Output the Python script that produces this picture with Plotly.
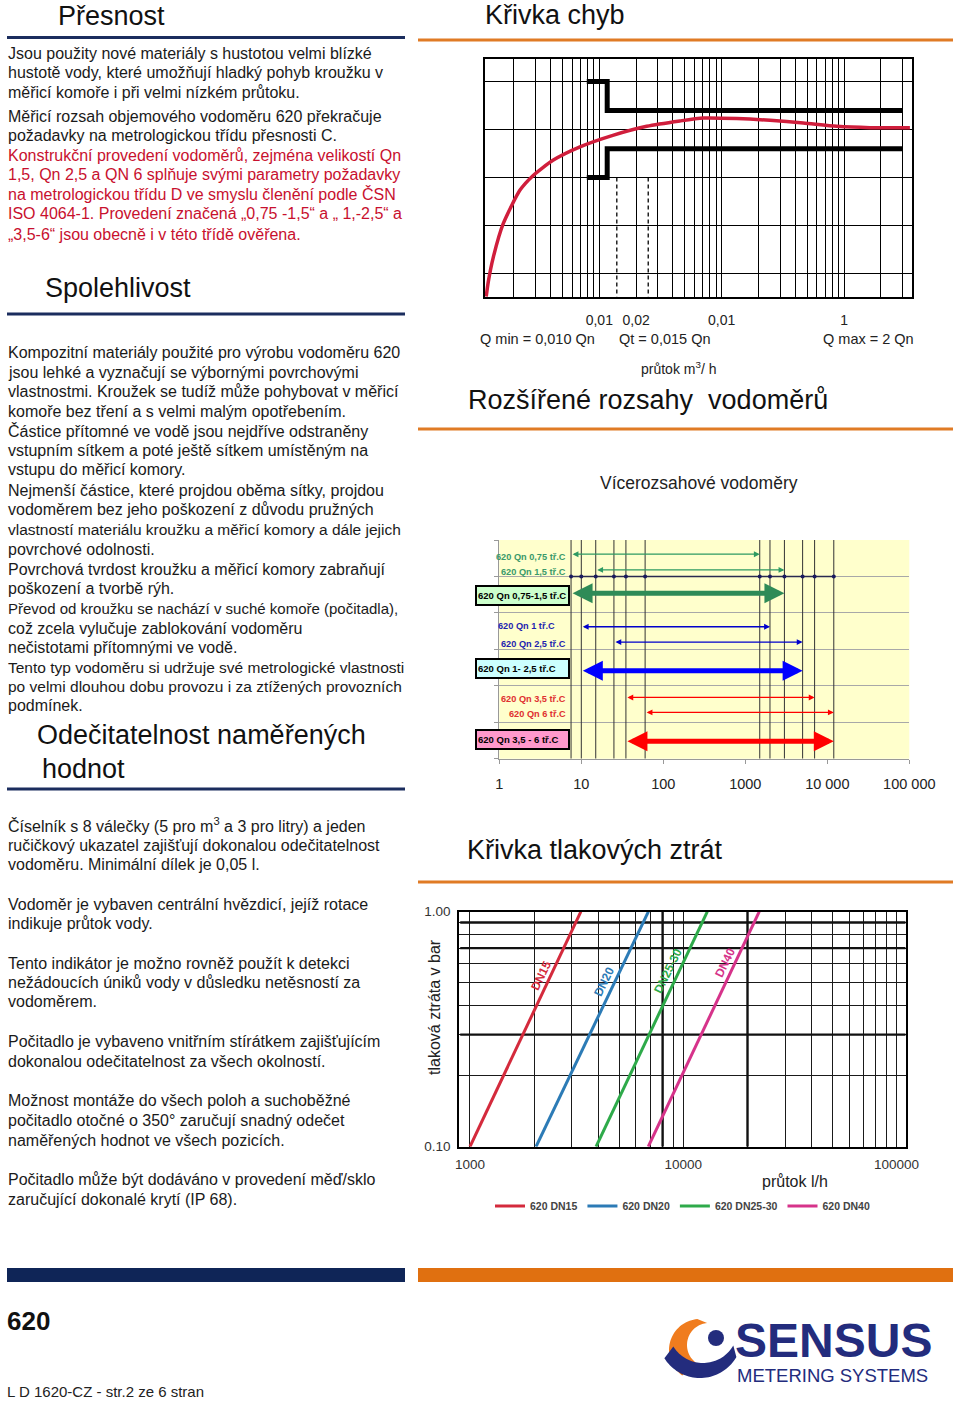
import numpy as np
import plotly.graph_objects as go

W, H = 960, 1401
FONT = "Liberation Sans, Arial, sans-serif"
NARROW = "Liberation Sans Narrow, Liberation Sans, Arial, sans-serif"

# ---------------- DATA ----------------
# Error curve (Křivka chyb): flow m3/h vs error %
err_flow = [0.00119, 0.00124, 0.00136, 0.00164, 0.00225, 0.00287, 0.00418, 0.00695,
            0.0129, 0.0244, 0.0456, 0.0708, 0.133, 0.248, 0.464, 0.870, 1.63, 3.45]
err_pct = [-17.4, -15.8, -13.3, -9.8, -6.3, -4.8, -3.2, -1.8,
           -0.6, 0.34, 0.9, 1.2, 1.15, 0.97, 0.69, 0.34, 0.2, 0.2]
limit_flow = [0.0079, 0.0116, 0.0116, 3.0]
limit_upper = [5, 5, 2, 2]
limit_lower = [-5, -5, -2, -2]
marked_flow = [0.0139, 0.0251]
err_tick_vals = [0.01, 0.02, 0.1, 1]
err_tick_text = ["0,01", "0,02", "0,01", "1"]

# Extended ranges (Vícerozsahové vodoměry), l/h
range_labels = ["620 Qn 0,75 tř.C", "620 Qn 1,5 tř.C", "620 Qn 0,75-1,5 tř.C",
                "620 Qn 1 tř.C", "620 Qn 2,5 tř.C", "620 Qn 1- 2,5 tř.C",
                "620 Qn 3,5 tř.C", "620 Qn 6 tř.C", "620 Qn 3,5 - 6 tř.C"]
range_min = [7.5, 15, 7.5, 10, 25, 10, 35, 60, 35]
range_max = [1500, 3000, 3000, 2000, 5000, 5000, 7000, 12000, 12000]
range_ticks = [1, 10, 100, 1000, 10000, 100000]
range_tick_text = ["1", "10", "100", "1000", "10 000", "100 000"]

# Pressure loss (Křivka tlakových ztrát): flow l/h vs loss bar
dn_names = ["620 DN15", "620 DN20", "620 DN25-30", "620 DN40"]
dn_flow = [[1000, 3310], [2040, 6860], [3900, 12960], [6850, 22700]]
dn_loss = [[0.10, 1.00], [0.10, 1.00], [0.10, 1.00], [0.10, 1.00]]
dp_tick_vals = [1000, 10000, 100000]
dp_tick_text = ["1000", "10000", "100000"]
loss_tick_vals = [0.1, 1.0]
loss_tick_text = ["0.10", "1.00"]
dp_bold_flow = [8000, 20000]
dp_bold_loss = [0.3, 0.7, 0.9]

# ---------------- helpers ----------------
def X(x):
    return x / W

def Y(y):
    return 1 - y / H

ann = []
shapes = []

def text(x, y, s, size=16, color="#1a1a1a", anchor="left", family=FONT, angle=0, yanchor="middle"):
    ann.append(dict(x=X(x), y=Y(y), xref="paper", yref="paper", text=s, showarrow=False,
                    xanchor=anchor, yanchor=yanchor, textangle=angle, borderpad=0,
                    font=dict(size=size, color=color, family=family)))

def hline(x0, x1, y, color, width):
    shapes.append(dict(type="line", xref="paper", yref="paper", x0=X(x0), x1=X(x1),
                       y0=Y(y), y1=Y(y), line=dict(color=color, width=width)))

def rect(x0, x1, y0, y1, color):
    shapes.append(dict(type="rect", xref="paper", yref="paper", x0=X(x0), x1=X(x1),
                       y0=Y(y1), y1=Y(y0), fillcolor=color, line=dict(width=0)))

NAVY = "#1B2D5E"
ORANGE = "#E07B25"
BLACK = "#1a1a1a"
RED = "#C8102E"

fig = go.Figure()

# ---------------- error curve chart ----------------
fig.add_trace(go.Scatter(x=err_flow, y=err_pct, mode="lines", line=dict(color="#D01E3C", width=3.5, shape="spline", smoothing=0.6),
                         xaxis="x", yaxis="y", showlegend=False, hoverinfo="skip"))
fig.add_trace(go.Scatter(x=limit_flow, y=limit_upper, mode="lines", line=dict(color="black", width=5),
                         xaxis="x", yaxis="y", showlegend=False, hoverinfo="skip"))
fig.add_trace(go.Scatter(x=limit_flow, y=limit_lower, mode="lines", line=dict(color="black", width=5),
                         xaxis="x", yaxis="y", showlegend=False, hoverinfo="skip"))
for q in marked_flow:
    fig.add_trace(go.Scatter(x=[q, q], y=[-5, -17.4], mode="lines", line=dict(color="black", width=1.3, dash="4px,3px"),
                             xaxis="x", yaxis="y", showlegend=False, hoverinfo="skip"))

err_grid = [m * 10.0 ** d for d in (-3, -2, -1, 0) for m in range(1, 10)]
err_grid = [v for v in err_grid if 0.0015 < v < 3.5]
err_text = []
for v in err_grid:
    lab = ""
    for tv, tt in zip(err_tick_vals, err_tick_text):
        if abs(v - tv) / tv < 1e-6:
            lab = tt
    err_text.append(lab)

# ---------------- range chart ----------------
ends = sorted(set(range_min + range_max))
gx, gy = [], []
for v in ends:
    gx += [v, v, None]
    gy += [0, 6, None]
fig.add_trace(go.Scatter(x=gx, y=gy, mode="lines", line=dict(color="#333333", width=1),
                         xaxis="x2", yaxis="y2", showlegend=False, hoverinfo="skip"))
fig.add_trace(go.Scatter(x=ends, y=[5] * len(ends), mode="lines+markers", line=dict(color="#2a2a50", width=1.5),
                         marker=dict(size=4, color="#1a1a5e"), xaxis="x2", yaxis="y2", showlegend=False, hoverinfo="skip"))

row_y = [5.61, 5.18, 4.54, 3.62, 3.20, 2.41, 1.68, 1.27, 0.48]
thin_cols = ["#2E9A62", "#0000CC", "#FF0000"]
big_cols = ["#2E8B57", "#0000FF", "#FF0000"]
label_cols = ["#3A9A6A", "#1F1FB0", "#E03030"]
box_cols = ["#CCFFCC", "#CCFFFF", "#FF99CC"]
thin_label_pos = [(567, 557), (567, 572), None, (556, 626), (567, 644), None, (567, 699), (567, 714), None]
box_y = [595.5, 668.5, 740]
for i in range(9):
    g = i // 3
    big = (i % 3 == 2)
    col = big_cols[g] if big else thin_cols[g]
    aw = 5 if big else 1.3
    asz = 0.8 if big else 0.9
    ann.append(dict(xref="x2", yref="y2", axref="x2", ayref="y2",
                    x=float(np.log10(range_max[i])), y=row_y[i],
                    ax=float(np.log10(range_min[i])), ay=row_y[i],
                    text="", showarrow=True, arrowhead=2, startarrowhead=2, arrowside="end+start",
                    arrowwidth=aw, arrowsize=asz, startarrowsize=asz, arrowcolor=col,
                    standoff=0, startstandoff=0))
    if big:
        ann.append(dict(x=X(522), y=Y(box_y[g]), xref="paper", yref="paper", text="<b>" + range_labels[i] + "</b>",
                        showarrow=False, xanchor="center", yanchor="middle", align="left",
                        width=89, height=15, bgcolor=box_cols[g], bordercolor="black", borderwidth=2, borderpad=1,
                        font=dict(size=9.5, color="black", family=FONT)))
    else:
        lx, ly = thin_label_pos[i]
        text(lx, ly, "<b>" + range_labels[i] + "</b>", size=9.2, color=label_cols[g], anchor="right")

# ---------------- pressure loss chart ----------------
bx, by = [], []
for v in dp_bold_flow:
    bx += [v, v, None]
    by += [0.1, 1.0, None]
for v in dp_bold_loss:
    bx += [900, 110000, None]
    by += [v, v, None]
fig.add_trace(go.Scatter(x=bx, y=by, mode="lines", line=dict(color="#111", width=2.4),
                         xaxis="x3", yaxis="y3", showlegend=False, hoverinfo="skip"))

dn_cols = ["#D42A3C", "#2C7BB6", "#2EAA4A", "#D6338A"]
for name, fl, ls, c in zip(dn_names, dn_flow, dn_loss, dn_cols):
    fig.add_trace(go.Scatter(x=fl, y=ls, mode="lines", name="<b>" + name + "</b>", line=dict(color=c, width=3),
                             xaxis="x3", yaxis="y3", showlegend=True, hoverinfo="skip"))

dp_grid = [m * 10 ** d for d in (3, 4) for m in range(1, 10)] + [100000]
dp_text = [dp_tick_text[dp_tick_vals.index(v)] if v in dp_tick_vals else "" for v in dp_grid]
loss_grid = [round(0.1 * m, 1) for m in range(1, 11)]
loss_text = []
for v in loss_grid:
    lab = ""
    for tv, tt in zip(loss_tick_vals, loss_tick_text):
        if abs(v - tv) < 1e-9:
            lab = tt
    loss_text.append(lab)

# DN labels along lines
text(541, 976, "<b>DN15</b>", size=12, color=dn_cols[0], anchor="center", angle=-64)
text(604, 982, "<b>DN20</b>", size=12, color=dn_cols[1], anchor="center", angle=-64)
text(668, 971, "<b>DN25-30</b>", size=12, color=dn_cols[2], anchor="center", angle=-64)
text(725, 963, "<b>DN40</b>", size=12, color=dn_cols[3], anchor="center", angle=-64)
text(435, 1007, "tlaková ztráta v bar", size=16, color="#222", anchor="center", angle=-90)
text(795, 1181, "průtok l/h", size=16, color="#222", anchor="center")

# ---------------- page texts ----------------
text(57, 16, "Přesnost", size=27, color="#111")
hline(7, 405, 37.5, NAVY, 3)
text(44, 288, "Spolehlivost", size=27, color="#111")
hline(7, 405, 314, NAVY, 3)
text(36, 735, "Odečitatelnost naměřených", size=27, color="#111")
text(41, 769, "hodnot", size=27, color="#111")
hline(7, 405, 789, NAVY, 3)

body = [
    (53, "Jsou použity nové materiály s hustotou velmi blízké", BLACK, 16),
    (73, "hustotě vody, které umožňují hladký pohyb kroužku v", BLACK, 16),
    (92, "měřicí komoře i při velmi nízkém průtoku.", BLACK, 16),
    (116, "Měřicí rozsah objemového vodoměru 620 překračuje", BLACK, 16),
    (135, "požadavky na metrologickou třídu přesnosti C.", BLACK, 16),
    (155, "Konstrukční provedení vodoměrů, zejména velikostí Qn", RED, 16),
    (175, "1,5, Qn 2,5 a QN 6 splňuje svými parametry požadavky", RED, 16),
    (194, "na metrologickou třídu D ve smyslu členění podle ČSN", RED, 16),
    (214, "ISO 4064-1. Provedení značená „0,75 -1,5“ a „ 1,-2,5“ a", RED, 16),
    (234, "„3,5-6“ jsou obecně i v této třídě ověřena.", RED, 16),
    (352, "Kompozitní materiály použité pro výrobu vodoměru 620", BLACK, 16),
    (372, "jsou lehké a vyznačují se výbornými povrchovými", BLACK, 16),
    (391, "vlastnostmi. Kroužek se tudíž může pohybovat v měřicí", BLACK, 16),
    (411, "komoře bez tření a s velmi malým opotřebením.", BLACK, 16),
    (431, "Částice přítomné ve vodě jsou nejdříve odstraněny", BLACK, 16),
    (450, "vstupním sítkem a poté ještě sítkem umístěným na", BLACK, 16),
    (470, "vstupu do měřicí komory.", BLACK, 16),
    (490, "Nejmenší částice, které projdou oběma sítky, projdou", BLACK, 16),
    (510, "vodoměrem bez jeho poškození z důvodu pružných", BLACK, 16),
    (529, "vlastností materiálu kroužku a měřicí komory a dále jejich", BLACK, 15.5),
    (549, "povrchové odolnosti.", BLACK, 16),
    (569, "Povrchová tvrdost kroužku a měřicí komory zabraňují", BLACK, 16),
    (588, "poškození a tvorbě rýh.", BLACK, 16),
    (608, "Převod od kroužku se nachází v suché komoře (počitadla),", BLACK, 15),
    (628, "což zcela vylučuje zablokování vodoměru", BLACK, 16),
    (647, "nečistotami přítomnými ve vodě.", BLACK, 16),
    (667, "Tento typ vodoměru si udržuje své metrologické vlastnosti", BLACK, 15.5),
    (687, "po velmi dlouhou dobu provozu i za ztížených provozních", BLACK, 15.5),
    (706, "podmínek.", BLACK, 16),
    (825, "Číselník s 8 válečky (5 pro m<sup>3</sup> a 3 pro litry) a jeden", BLACK, 16),
    (845, "ručičkový ukazatel zajišťují dokonalou odečitatelnost", BLACK, 16),
    (864, "vodoměru. Minimální dílek je 0,05 l.", BLACK, 16),
    (904, "Vodoměr je vybaven centrální hvězdicí, jejíž rotace", BLACK, 16),
    (923, "indikuje průtok vody.", BLACK, 16),
    (963, "Tento indikátor je možno rovněž použít k detekci", BLACK, 16),
    (982, "nežádoucích úniků vody v důsledku netěsností za", BLACK, 16),
    (1002, "vodoměrem.", BLACK, 16),
    (1041, "Počitadlo je vybaveno vnitřním stírátkem zajišťujícím", BLACK, 16),
    (1061, "dokonalou odečitatelnost za všech okolností.", BLACK, 16),
    (1100, "Možnost montáže do všech poloh a suchoběžné", BLACK, 16),
    (1120, "počitadlo otočné o 350° zaručují snadný odečet", BLACK, 16),
    (1140, "naměřených hodnot ve všech pozicích.", BLACK, 16),
    (1179, "Počitadlo může být dodáváno v provedení měď/sklo", BLACK, 16),
    (1199, "zaručující dokonalé krytí (IP 68).", BLACK, 16),
]
for y, s, c, sz in body:
    text(7, y, s, size=sz, color=c)

# right column headings
text(484, 15, "Křivka chyb", size=27, color="#111")
hline(418, 953, 40, ORANGE, 3)
text(537, 339, "Q min = 0,010 Qn", size=14.5, color="#222", anchor="center")
text(665, 339, "Qt = 0,015 Qn", size=14.5, color="#222", anchor="center")
text(868, 339, "Q max = 2 Qn", size=14.5, color="#222", anchor="center")
text(679, 368, "průtok m<sup>3</sup>/ h", size=14, color="#222", anchor="center")
text(467, 400, "Rozšířené rozsahy\u00a0 vodoměrů", size=27, color="#111")
hline(418, 953, 429, ORANGE, 3)
text(699, 483, "Vícerozsahové vodoměry", size=17.5, color="#222", anchor="center")
text(466, 850, "Křivka tlakových ztrát", size=27, color="#111")
hline(418, 953, 882, ORANGE, 3)

# footer
rect(7, 405, 1268, 1282, "#0F2557")
rect(418, 953, 1268, 1282, "#E07010")
text(6, 1321, "<b>620</b>", size=26, color="#111")
text(6, 1391, "L D 1620-CZ - str.2 ze 6 stran", size=15, color="#222", family=NARROW)
text(734, 1340, "<b>SENSUS</b>", size=48, color="#232C7D")
text(736, 1375, "METERING SYSTEMS", size=18.5, color="#232C7D")

# logo swoosh (decorative)
def arc(cx, cy, r, t0, t1, n=40):
    t = np.radians(np.linspace(t0, t1, n))
    return list(zip(cx + r * np.cos(t), cy - r * np.sin(t)))

def path(pts):
    return "M " + " L ".join(f"{X(px):.5f},{Y(py):.5f}" for px, py in pts) + " Z"

orange_pts = arc(700, 1350, 31, 95, 235) + arc(709, 1345, 22, 235, 95)
navy_pts = arc(700, 1336, 42, 212, 330) + arc(703, 1328, 35, 330, 212)
shapes.append(dict(type="path", xref="paper", yref="paper", path=path(orange_pts), fillcolor="#F07C1E", line=dict(width=0)))
shapes.append(dict(type="path", xref="paper", yref="paper", path=path(navy_pts), fillcolor="#232C7D", line=dict(width=0)))
shapes.append(dict(type="circle", xref="paper", yref="paper", x0=X(708), x1=X(724), y0=Y(1346), y1=Y(1330),
                   fillcolor="#232C7D", line=dict(width=0)))

# yellow background of the range chart
shapes.append(dict(type="rect", xref="x2 domain", yref="y2 domain", x0=0, x1=1, y0=0, y1=1,
                   fillcolor="#FFFFCC", line=dict(width=0), layer="below"))

fig.update_layout(
    width=W, height=H, autosize=False,
    margin=dict(l=0, r=0, t=0, b=0, pad=0, autoexpand=False),
    paper_bgcolor="white", plot_bgcolor="white",
    font=dict(family=FONT, color="#222"),
    annotations=ann, shapes=shapes,
    legend=dict(orientation="h", x=X(490), y=Y(1206), xanchor="left", yanchor="middle",
                font=dict(size=10.5, color="#444", family=FONT), itemwidth=30,
                bgcolor="rgba(0,0,0,0)", tracegroupgap=0),
    xaxis=dict(domain=[X(485), X(912)], anchor="y", type="log", range=[-2.934, 0.555],
               tickvals=err_grid, ticktext=err_text, ticks="", showgrid=True, gridcolor="black", gridwidth=1.2,
               showline=True, linecolor="black", linewidth=2, mirror=True, zeroline=False, automargin=False,
               tickfont=dict(size=14, color="#222"), ticklabelstandoff=9),
    yaxis=dict(domain=[Y(296.7), Y(59)], anchor="x", range=[-17.4, 7.35], tickvals=[-15, -10, -5, 0, 5],
               showticklabels=False, ticks="", showgrid=True, gridcolor="black", gridwidth=1.2, automargin=False,
               showline=True, linecolor="black", linewidth=2, mirror=True, zeroline=False),
    xaxis2=dict(domain=[X(499.3), X(909.3)], anchor="y2", type="log", range=[0, 5],
                tickvals=range_ticks, ticktext=range_tick_text, ticks="outside", ticklen=4, tickcolor="#999",
                showgrid=False, showline=True, linecolor="#999", linewidth=1, zeroline=False, automargin=False,
                tickfont=dict(size=14.5, color="#222"), ticklabelstandoff=8),
    yaxis2=dict(domain=[Y(758.7), Y(540)], anchor="x2", range=[0, 6], tickvals=[0, 1, 2, 3, 4, 5, 6],
                showticklabels=False, ticks="outside", ticklen=4, tickcolor="#999", automargin=False,
                showgrid=True, gridcolor="#A8A8A8", gridwidth=1, showline=True, linecolor="#999", zeroline=False),
    xaxis3=dict(domain=[X(459.3), X(906)], anchor="y3", type="log", range=[2.95, 5.044],
                tickvals=dp_grid, ticktext=dp_text, ticks="", showgrid=True, gridcolor="#1a1a1a", gridwidth=1.3,
                showline=True, linecolor="black", linewidth=2, mirror=True, zeroline=False, automargin=False,
                tickfont=dict(size=13.5, color="#333"), ticklabelstandoff=4),
    yaxis3=dict(domain=[Y(1146.7), Y(911.7)], anchor="x3", type="log", range=[-1, 0],
                tickvals=loss_grid, ticktext=loss_text, ticks="", showgrid=True, gridcolor="#1a1a1a", gridwidth=1.3,
                showline=True, linecolor="black", linewidth=2, mirror=True, zeroline=False, automargin=False,
                tickfont=dict(size=13.5, color="#333"), ticklabelstandoff=4),
)

fig.write_html("out.html", config={"displayModeBar": False},
               post_script="document.body.style.margin='0';document.body.style.padding='0';document.documentElement.style.overflow='hidden';")
